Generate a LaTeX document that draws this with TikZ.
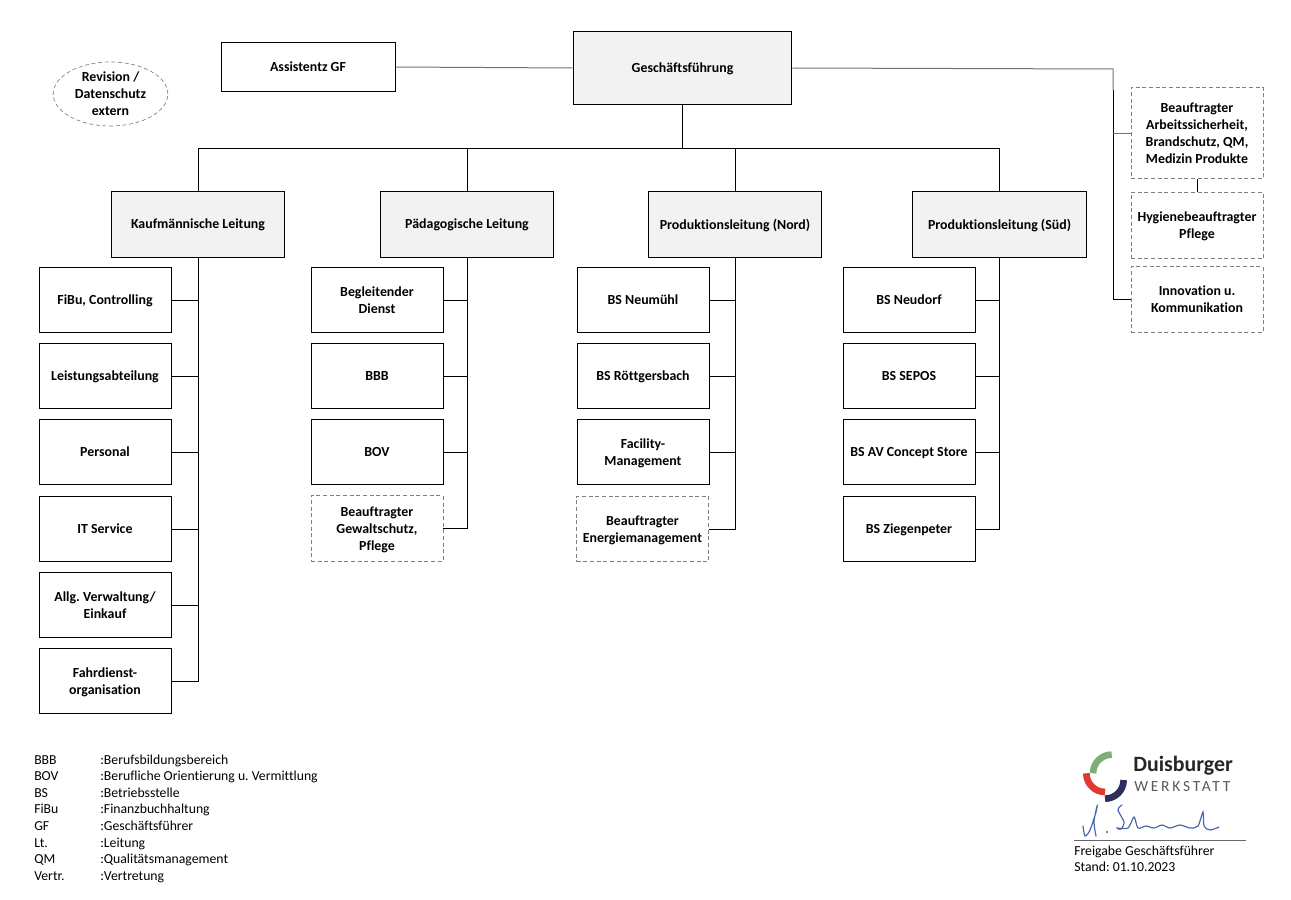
\documentclass[tikz,border=0pt]{standalone}
\usepackage{fontspec}
\usetikzlibrary{shapes.geometric}
\setmainfont{Carlito}[Ligatures=CommonOff]
\newfontfamily\logofont[LetterSpace=18,Ligatures=CommonOff]{Carlito}
\frenchspacing
\definecolor{boxgrey}{HTML}{F2F2F2}
\definecolor{dashgrey}{HTML}{808080}
\definecolor{logogreen}{HTML}{7FAE7A}
\definecolor{logored}{HTML}{E0392F}
\definecolor{logonavy}{HTML}{2E2E5C}
\definecolor{signblue}{HTML}{4A68B0}
\tikzset{
  every node/.style={font=\fontsize{10.4}{12.75}\selectfont\bfseries,align=center,inner sep=0pt,text depth=0pt},
  oneline/.style={text depth=-1.4pt},
  plainbox/.style={draw=black,line width=.75pt,rectangle},
  leadbox/.style={plainbox,fill=boxgrey,minimum width=130pt,minimum height=49.5pt},
  childbox/.style={plainbox,minimum width=99pt,minimum height=49pt},
  dutybox/.style={draw=dashgrey,line width=.6pt,densely dashed,rectangle,minimum width=99pt,minimum height=49pt},
  legendtext/.style={font=\fontsize{10.3}{12}\selectfont,anchor=base west},
  link/.style={line width=.75pt,draw=black},
  greylink/.style={line width=.75pt,draw=black!55},
}
\begin{document}
\begin{tikzpicture}[x=.75pt,y=-.75pt]
\useasboundingbox (0,0) rectangle (1291,899);
% top row
\node[plainbox,oneline,fill=boxgrey,minimum width=164pt,minimum height=54pt] (gf) at (682.5,68) {Geschäftsführung};
\node[plainbox,oneline,minimum width=130.5pt,minimum height=36pt] (assist) at (308,67) {Assistentz GF};
\node[draw=dashgrey,line width=.5pt,densely dashed,ellipse,minimum width=86pt,minimum height=48pt] (revision) at (110.5,94) {Revision /\\Datenschutz\\extern};
% leaders
\node[leadbox] (kfm) at (198,224) {Kaufmännische Leitung};
\node[leadbox] (paed) at (467,224) {Pädagogische Leitung};
\node[leadbox] (nord) at (735,224) {Produktionsleitung (Nord)};
\node[leadbox] (sued) at (999.5,224) {Produktionsleitung (Süd)};
% column 1
\node[childbox,oneline] (fibu) at (105,300) {FiBu, Controlling};
\node[childbox,oneline] (leistung) at (105,376) {Leistungsabteilung};
\node[childbox,oneline] (personal) at (105,452) {Personal};
\node[childbox] (it) at (105,529) {IT Service};
\node[childbox] (verw) at (105,605) {Allg. Verwaltung/\\Einkauf};
\node[childbox] (fahr) at (105,681) {Fahrdienst-\\organisation};
% column 2
\node[childbox] (dienst) at (377,300) {Begleitender\\Dienst};
\node[childbox,oneline] (bbb) at (377,376) {BBB};
\node[childbox,oneline] (bov) at (377,452) {BOV};
\node[dutybox] (gewalt) at (377,528.5) {Beauftragter\\Gewaltschutz,\\Pflege};
% column 3
\node[childbox,oneline] (neumuehl) at (643,300) {BS Neumühl};
\node[childbox,oneline] (roett) at (643,376) {BS Röttgersbach};
\node[childbox] (facility) at (643,452) {Facility-\\Management};
\node[dutybox] (energie) at (642.5,529) {Beauftragter\\Energiemanagement};
% column 4
\node[childbox,oneline] (neudorf) at (909,300) {BS Neudorf};
\node[childbox,oneline] (sepos) at (909,376) {BS SEPOS};
\node[childbox,oneline] (concept) at (909,452) {BS AV Concept Store};
\node[childbox] (ziegen) at (909,529) {BS Ziegenpeter};
% staff boxes on the right
\node[dutybox,minimum height=68.5pt] (arbeit) at (1197,133) {Beauftragter\\Arbeitssicherheit,\\Brandschutz, QM,\\Medizin Produkte};
\node[dutybox,minimum height=50pt] (hygiene) at (1197,225.5) {Hygienebeauftragter\\Pflege};
\node[dutybox] (innov) at (1197,299.5) {Innovation u.\\Kommunikation};
% connectors
\coordinate (bus) at (682.5,148);
\coordinate (staff) at (1113,69);
\coordinate (staffa) at (1113,133);
\foreach \lead in {kfm,paed,nord,sued}
  \draw[link] (gf.south) -- (bus) -| (\lead.north);
\foreach \kid in {fibu,leistung,personal,it,verw,fahr}
  \draw[link] (\kid.east) -| (kfm.south);
\foreach \kid in {dienst,bbb,bov,gewalt}
  \draw[link] (\kid.east) -| (paed.south);
\foreach \kid in {neumuehl,roett,facility,energie}
  \draw[link] (\kid.east) -| (nord.south);
\foreach \kid in {neudorf,sepos,concept,ziegen}
  \draw[link] (\kid.east) -| (sued.south);
\draw[greylink] (assist.east) -- (gf.west);
\draw[greylink] (gf.east) -- (staff) -- (1113,90);
\draw[link] (1113,90) |- (innov.west);
\draw[greylink] (staffa) -- (arbeit.west);
\draw[link] (arbeit.south) -- (hygiene.north);
% legend
\foreach \short/\long/\ypos in {BBB/Berufsbildungsbereich/764,BOV/Berufliche Orientierung u. Vermittlung/780,BS/Betriebsstelle/797,FiBu/Finanzbuchhaltung/813,GF/Geschäftsführer/830,Lt./Leitung/847,QM/Qualitätsmanagement/863,Vertr./Vertretung/880}{
  \node[legendtext] (short\ypos) at (34,\ypos) {\short};
  \node[legendtext] (long\ypos) at (100,\ypos) {:\long};
}
% logo
\coordinate (greenc) at (1111.7,773.3);
\coordinate (redc) at (1105,773.3);
\coordinate (navyc) at (1105,780);
\draw[logogreen,line width=5pt] (greenc) ++(180:14pt) arc[start angle=180,end angle=90,radius=14pt];
\draw[logored,line width=5pt] (redc) ++(180:14pt) arc[start angle=180,end angle=270,radius=14pt];
\draw[logonavy,line width=5pt] (navyc) ++(270:14pt) arc[start angle=270,end angle=360,radius=14pt];
\node[font=\fontsize{16.4}{18}\selectfont\bfseries,text=black!85,anchor=base west] (duis) at (1133,771) {Duisburger};
\node[font=\fontsize{11.6}{13}\logofont,text=black!65,anchor=base west] (werk) at (1134,791) {WERKSTATT};
% signature
\draw[signblue,line width=.9pt,line cap=round] plot[smooth] coordinates {(1083,826) (1085,836) (1090,830) (1096,812) (1097,806) (1094,822) (1096,836)};
\fill[signblue] (1107,832) circle[radius=.8pt];
\draw[signblue,line width=.9pt,line cap=round] plot[smooth] coordinates {(1122,805) (1118,810) (1124,822) (1121,829) (1117,828) (1128,828) (1134,817) (1138,828) (1146,826) (1154,828) (1162,825) (1170,828) (1180,825) (1190,828) (1198,826) (1203,812) (1204,826) (1210,830) (1219,827)};
\draw[line width=.6pt,draw=black!60] (1074,840) -- (1246,840);
\node[legendtext] (freigabe) at (1074,855) {Freigabe Geschäftsführer};
\node[legendtext] (stand) at (1074,871) {Stand: 01.10.2023};
\end{tikzpicture}
\end{document}
